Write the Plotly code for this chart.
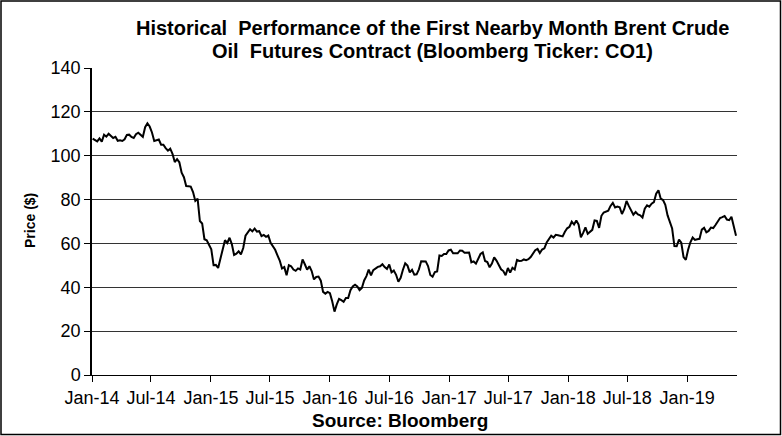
import pandas as pd
import plotly.graph_objects as go

# Weekly (Friday) closes of the first nearby Brent crude futures contract, $/bbl
prices_2014 = [107.8, 107.3, 106.5, 107.9, 106.4,
               109.6, 108.7, 110.0, 109.1,
               108.1, 108.6, 106.8, 107.0,
               106.7, 107.5, 109.5, 109.6, 108.6,
               108.1, 109.8, 110.5, 109.4,
               108.6, 113.0, 114.8, 113.3,
               110.6, 106.7, 107.2, 107.4, 105.0,
               105.0, 103.5, 102.3, 103.2,
               100.8, 97.1, 98.4, 97.0,
               92.3, 90.2, 86.2, 86.1, 85.9,
               83.4, 79.4, 80.4, 70.2,
               69.1, 61.9, 61.4, 59.5]
prices_2015 = [57.3, 50.1, 50.2, 48.8, 52.9,
               57.8, 61.5, 60.2, 62.6,
               59.7, 54.7, 55.3, 56.4,
               55.0, 57.9, 63.5, 65.3, 66.5,
               65.5, 66.8, 65.4, 65.6,
               63.3, 63.9, 63.0, 63.6,
               60.3, 58.7, 57.1, 54.6, 52.2,
               48.6, 49.2, 45.5, 50.1,
               49.6, 48.1, 47.5, 48.6,
               48.1, 52.7, 50.5, 48.0, 49.6,
               47.4, 43.6, 44.7, 44.9,
               43.0, 37.9, 37.1, 37.9]
prices_2016 = [37.3, 33.6, 28.9, 32.2, 34.7,
               34.1, 33.4, 35.1, 35.1,
               38.7, 40.4, 41.2, 40.4, 38.7,
               39.7, 43.1, 45.1, 48.1,
               45.4, 47.8, 48.7, 49.3,
               49.6, 50.5, 49.2, 48.4, 50.4,
               46.8, 47.6, 45.7, 42.5,
               44.3, 48.0, 50.9, 49.9,
               46.8, 48.0, 45.8, 45.9, 48.2,
               51.9, 52.0, 51.8, 49.7,
               45.6, 44.8, 46.9, 47.2,
               54.5, 54.3, 55.2, 55.2, 56.8]
prices_2017 = [57.1, 55.5, 55.5, 55.5,
               56.8, 56.7, 55.8, 56.0,
               55.9, 51.4, 51.8, 50.8, 53.0,
               55.2, 55.9, 52.0, 51.5,
               49.1, 50.8, 53.6, 52.2,
               50.0, 48.2, 47.4, 45.5, 48.8,
               46.7, 48.9, 48.1, 52.5,
               52.0, 52.1, 52.7, 52.4,
               52.8, 53.8, 55.6, 56.9, 57.5,
               55.6, 57.2, 57.8, 60.4,
               62.1, 63.5, 62.7, 63.9,
               63.7, 63.4, 63.2, 65.3, 66.9]
prices_2018 = [67.6, 69.9, 68.6, 70.5, 68.6,
               62.8, 64.8, 67.3, 64.4,
               65.5, 66.2, 70.5, 70.3,
               67.1, 72.6, 74.1, 74.6,
               74.9, 77.1, 78.5, 76.4,
               76.8, 76.5, 73.4, 75.6, 79.4,
               77.1, 75.3, 73.1, 74.3,
               73.2, 72.8, 71.8, 75.8, 77.4,
               76.8, 78.1, 78.8, 82.7,
               84.2, 80.4, 79.8, 77.6, 72.8,
               70.2, 66.8, 58.8, 58.7,
               61.7, 60.3, 53.8, 52.5]
prices_2019 = [57.1, 60.5, 62.7, 61.6, 61.9,
               62.1, 66.3, 67.1, 65.1,
               65.7, 67.2, 67.0, 68.4,
               70.3, 71.6, 72.0, 72.5, 70.9,
               70.6, 72.2, 68.0, 63.5]

prices = prices_2014 + prices_2015 + prices_2016 + prices_2017 + prices_2018 + prices_2019
dates = pd.date_range("2014-01-03", periods=len(prices), freq="W-FRI")

tick_dates = ["2014-01-01", "2014-07-01", "2015-01-01", "2015-07-01", "2016-01-01",
              "2016-07-01", "2017-01-01", "2017-07-01", "2018-01-01", "2018-07-01",
              "2019-01-01"]
tick_labels = ["Jan-14", "Jul-14", "Jan-15", "Jul-15", "Jan-16", "Jul-16",
               "Jan-17", "Jul-17", "Jan-18", "Jul-18", "Jan-19"]

title_line1 = "<b>Historical  Performance of the First Nearby Month Brent Crude</b>"
title_line2 = "<b>Oil  Futures Contract (Bloomberg Ticker: CO1)</b>"

FONT = "Liberation Sans, Arial, sans-serif"

fig = go.Figure()
fig.add_trace(go.Scatter(x=dates, y=prices, mode="lines",
                         line=dict(color="black", width=2), showlegend=False,
                         hoverinfo="x+y"))

W, H = 782, 436
L, R, T, B = 92, 45, 68, 61
pw, ph = W - L - R, H - T - B


def px_x(x):
    return (x - L) / pw


def px_y(y):
    return (H - B - y) / ph


fig.update_layout(
    width=W, height=H,
    margin=dict(l=L, r=R, t=T, b=B),
    paper_bgcolor="white", plot_bgcolor="white",
    font=dict(family=FONT, color="black", size=18),
    xaxis=dict(range=["2014-01-01", "2019-06-03"], tickvals=tick_dates, ticktext=tick_labels,
               ticks="outside", ticklen=6, tickcolor="black", tickwidth=1,
               showgrid=False, showline=True, linecolor="black", linewidth=1,
               zeroline=False, tickfont=dict(size=18, family=FONT)),
    yaxis=dict(range=[0, 140], dtick=20, ticks="outside", ticklen=6, tickcolor="black",
               showgrid=True, gridcolor="#333333", gridwidth=1,
               showline=True, linecolor="black", linewidth=1.5, zeroline=False,
               tickfont=dict(size=18, family=FONT)),
    annotations=[
        dict(text=title_line1, xref="paper", yref="paper",
             x=px_x(432), y=px_y(28), xanchor="center", yanchor="middle",
             showarrow=False, font=dict(size=20, family=FONT)),
        dict(text=title_line2, xref="paper", yref="paper",
             x=px_x(432), y=px_y(51), xanchor="center", yanchor="middle",
             showarrow=False, font=dict(size=20, family=FONT)),
        dict(text="<b>Price ($)</b>", xref="paper", yref="paper", textangle=-90,
             x=px_x(30), y=px_y(221), xanchor="center", yanchor="middle",
             showarrow=False, font=dict(size=14, family=FONT)),
        dict(text="<b>Source: Bloomberg</b>", xref="paper", yref="paper",
             x=px_x(400), y=px_y(420), xanchor="center", yanchor="middle",
             showarrow=False, font=dict(size=19, family=FONT)),
    ],
    shapes=[dict(type="rect", xref="paper", yref="paper",
                 x0=px_x(1), x1=px_x(W - 1.5),
                 y0=px_y(H - 1.5), y1=px_y(1),
                 line=dict(color="black", width=1.5), fillcolor="rgba(0,0,0,0)",
                 layer="above")],
)

fig.write_html("out.html",
               config={"displayModeBar": False},
               post_script="document.body.style.margin='0';document.body.style.overflow='hidden';")
